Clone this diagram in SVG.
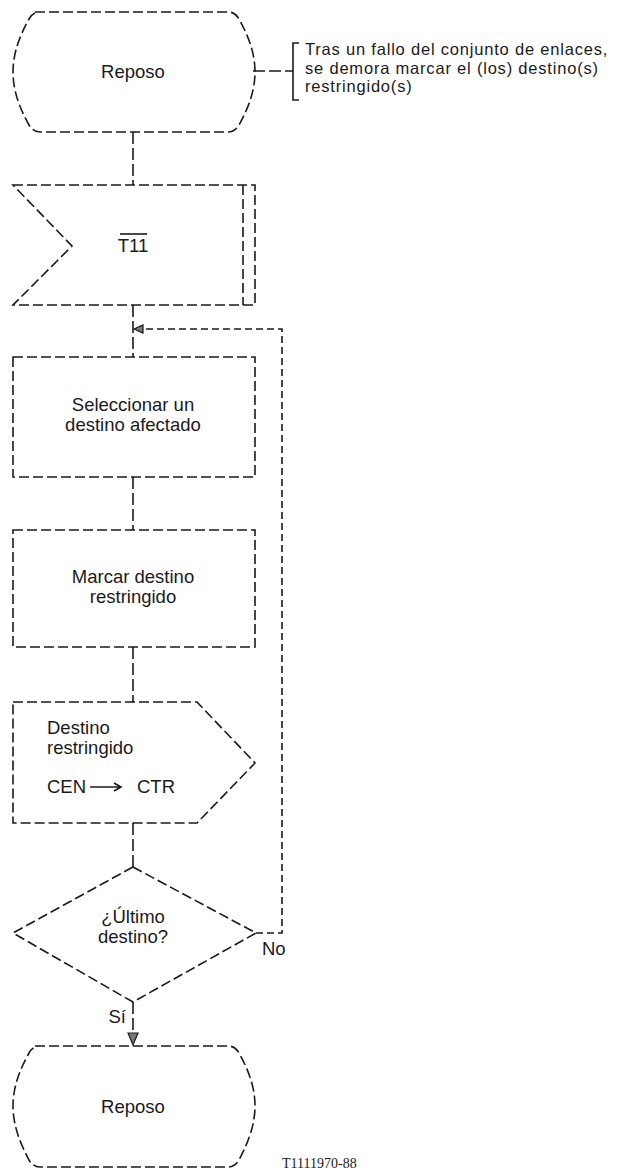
<svg xmlns="http://www.w3.org/2000/svg" width="636" height="1171" viewBox="0 0 636 1171">
<style>
.sh{fill:none;stroke:#1a1a1a;stroke-width:1.6;stroke-dasharray:10 4}
.cn{fill:none;stroke:#1a1a1a;stroke-width:1.6;stroke-dasharray:12 4}
.lp{fill:none;stroke:#1a1a1a;stroke-width:1.6;stroke-dasharray:7 4}
.sol{fill:none;stroke:#1a1a1a;stroke-width:1.6}
.ah{fill:#777;stroke:#1a1a1a;stroke-width:1.2}
text{font-family:"Liberation Sans",Arial,sans-serif;font-size:18.5px;fill:#1a1a1a}
.c{text-anchor:middle}
.an{font-size:16.5px;letter-spacing:0.8px}
.ref{font-family:"Liberation Serif","Times New Roman",serif;font-size:14px}
</style>
<rect width="636" height="1171" fill="#fff"/>
<g id="connectors">
<path class="cn" d="M133,132 V185"/>
<path class="cn" d="M253,71 H293"/>
<path class="cn" d="M133,305 V357"/>
<path class="cn" d="M133,477 V530"/>
<path class="cn" d="M133,647 V702"/>
<path class="cn" d="M133,823 V867"/>
<path class="cn" d="M133,1002 V1033"/>
<path class="lp" d="M256,933 H282 V329 H143"/>
<path class="ah" d="M134,329 L143,325 L143,333 Z"/>
<path class="ah" d="M128,1033 L138,1033 L133,1045 Z"/>
<text x="126" y="1023" text-anchor="end">Sí</text>
<text x="262" y="955">No</text>
</g>
<g id="reposo1">
<path class="sh" d="M35,12 H228 Q235,12 239,19 C249,37 255,54 255,72 C255,90 249,107 239,125 Q235,132 228,132 H40 Q33,132 29,125 C19,107 13,90 13,72 C13,54 19,37 29,19 Q33,12 40,12"/>
<text class="c" x="133" y="78">Reposo</text>
</g>
<g id="annotation">
<path class="sol" d="M299,43 H293 V100 H299"/>
<text class="an" x="305" y="55">Tras un fallo del conjunto de enlaces,</text>
<text class="an" x="305" y="73.5">se demora marcar el (los) destino(s)</text>
<text class="an" x="305" y="92">restringido(s)</text>
</g>
<g id="t11">
<path class="sh" d="M13,185 H255 V305 H13 L72,246 Z"/>
<path class="sh" d="M243,185 V305"/>
<text class="c" x="133" y="252">T11</text>
<path class="sol" d="M120,234 H147" stroke-width="1.2"/>
</g>
<g id="seleccionar">
<rect class="sh" x="13" y="357" width="242" height="120"/>
<text class="c" x="133" y="411">Seleccionar un</text>
<text class="c" x="133" y="431">destino afectado</text>
</g>
<g id="marcar">
<rect class="sh" x="13" y="530" width="242" height="117"/>
<text class="c" x="133" y="583">Marcar destino</text>
<text class="c" x="133" y="603">restringido</text>
</g>
<g id="salida">
<path class="sh" d="M13,702 H197 L255,763 L197,823 H13 Z"/>
<text x="47" y="734">Destino</text>
<text x="47" y="754">restringido</text>
<text x="47" y="793">CEN</text>
<path class="sol" d="M90,787 H121 M114,783 L121,787 L114,791" stroke-width="1.2"/>
<text x="137" y="793">CTR</text>
</g>
<g id="decision">
<path class="sh" d="M133,867 L256,933 L133,1002 L13,933 Z"/>
<text class="c" x="133" y="923">¿Último</text>
<text class="c" x="133" y="943">destino?</text>
</g>
<g id="reposo2">
<path class="sh" d="M35,1046 H228 Q235,1046 239,1053 C249,1071 255,1088 255,1106 C255,1124 249,1141 239,1160 Q235,1167 228,1167 H40 Q33,1167 29,1160 C19,1141 13,1124 13,1106 C13,1088 19,1071 29,1053 Q33,1046 40,1046"/>
<text class="c" x="133" y="1113">Reposo</text>
</g>
<text class="ref" x="282" y="1168">T1111970-88</text>
</svg>
